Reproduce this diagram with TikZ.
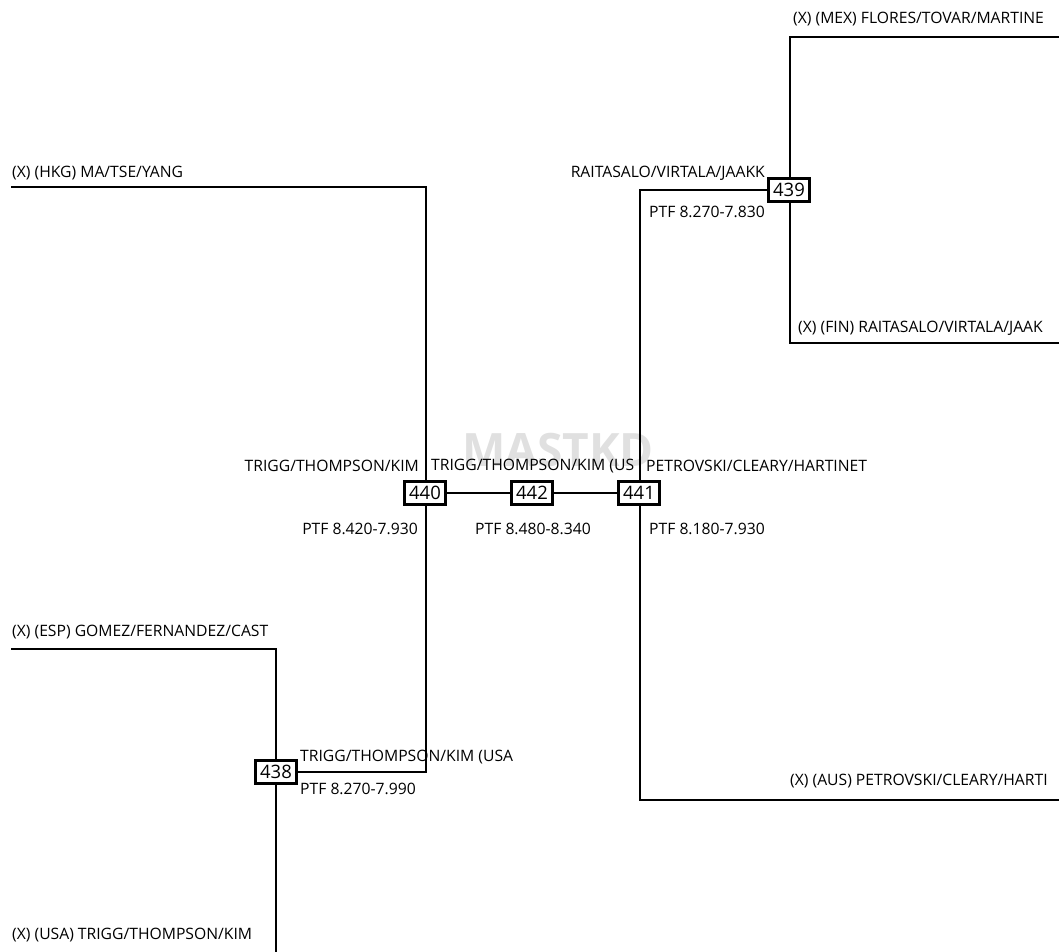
\documentclass[tikz,border=0pt]{standalone}
\usepackage{fontspec}
\setmainfont{Open Sans}
\begin{document}
\begin{tikzpicture}[x=1pt,y=-1pt,
  conn/.style={line width=1.5pt, line cap=rect},
  box/.style={draw, line width=3pt, fill=white, minimum width=41pt, minimum height=23pt, inner sep=0pt, font=\fontsize{18.5}{20}\selectfont},
  lbl/.style={inner sep=0pt, font=\fontsize{15.7}{18}\selectfont},
  wm/.style={inner sep=0pt, text=black!12, font=\fontsize{46}{50}\selectfont\bfseries}]
\useasboundingbox (0,0) rectangle (1059,951);
% watermark
\node[wm] (wmark) at (558,450) {MASTKD};
% coordinates
\coordinate (hkgL) at (12,187);
\coordinate (hkgC) at (426,187);
\coordinate (j440) at (426,772);
\coordinate (t441) at (640,190);
\coordinate (aus0) at (640,800);
\coordinate (ausM) at (768,800);
\coordinate (ausN) at (770,800);
\coordinate (ausR) at (1059,800);
\coordinate (mexC) at (790,37);
\coordinate (mexR) at (1059,37);
\coordinate (finC) at (790,343);
\coordinate (finR) at (1059,343);
\coordinate (espL) at (12,649);
\coordinate (espC) at (276,649);
\coordinate (usaB) at (276,951);
% boxes
\node[box] (b440) at (425,493) {440};
\node[box] (b442) at (532,493) {442};
\node[box] (b441) at (639,493) {441};
\node[box] (b439) at (789,190) {439};
\node[box] (b438) at (276,772) {438};
% connectors
\draw[conn] (hkgL) -- (hkgC) -- (b440.north -| hkgC);
\draw[conn] (b440.south -| hkgC) -- (j440) -- (b438.east);
\draw[conn] (b440.east) -- (b442.west);
\draw[conn] (b442.east) -- (b441.west);
\draw[conn] (b439.west) -- (t441) -- (b441.north -| t441);
\draw[conn] (b441.south -| aus0) -- (aus0) -- (ausM);
\draw[conn] (ausN) -- (ausR);
\draw[conn] (mexR) -- (mexC) -- (b439.north -| mexC);
\draw[conn] (b439.south -| finC) -- (finC) -- (finR);
\draw[conn] (espL) -- (espC) -- (b438.north);
\draw[conn] (b438.south) -- (usaB);
% labels
\node[lbl, anchor=west] (lmex) at (793,19) {(X) (MEX) FLORES/TOVAR/MARTINE};
\node[lbl, anchor=east] (lrai) at (765,173) {RAITASALO/VIRTALA/JAAKK};
\node[lbl, anchor=west] (p439) at (649,212) {PTF 8.270-7.830};
\node[lbl, anchor=west] (lfin) at (798,328) {(X) (FIN) RAITASALO/VIRTALA/JAAK};
\node[lbl, anchor=west] (lhkg) at (12,173) {(X) (HKG) MA/TSE/YANG};
\node[lbl, anchor=east] (l440) at (419,466) {TRIGG/THOMPSON/KIM};
\node[lbl, anchor=west] (l442) at (431,466) {TRIGG/THOMPSON/KIM (US};
\node[lbl, anchor=west] (l441) at (646,466) {PETROVSKI/CLEARY/HARTINET};
\node[lbl, anchor=east] (p440) at (418,529) {PTF 8.420-7.930};
\node[lbl, anchor=west] (p442) at (475,529) {PTF 8.480-8.340};
\node[lbl, anchor=west] (p441) at (649,529) {PTF 8.180-7.930};
\node[lbl, anchor=west] (lesp) at (12,632) {(X) (ESP) GOMEZ/FERNANDEZ/CAST};
\node[lbl, anchor=west] (l438) at (300,757) {TRIGG/THOMPSON/KIM (USA};
\node[lbl, anchor=west] (p438) at (300,789) {PTF 8.270-7.990};
\node[lbl, anchor=west] (lusa) at (12,935) {(X) (USA) TRIGG/THOMPSON/KIM};
\node[lbl, anchor=west] (laus) at (790,781) {(X) (AUS) PETROVSKI/CLEARY/HARTI};
\end{tikzpicture}
\end{document}
